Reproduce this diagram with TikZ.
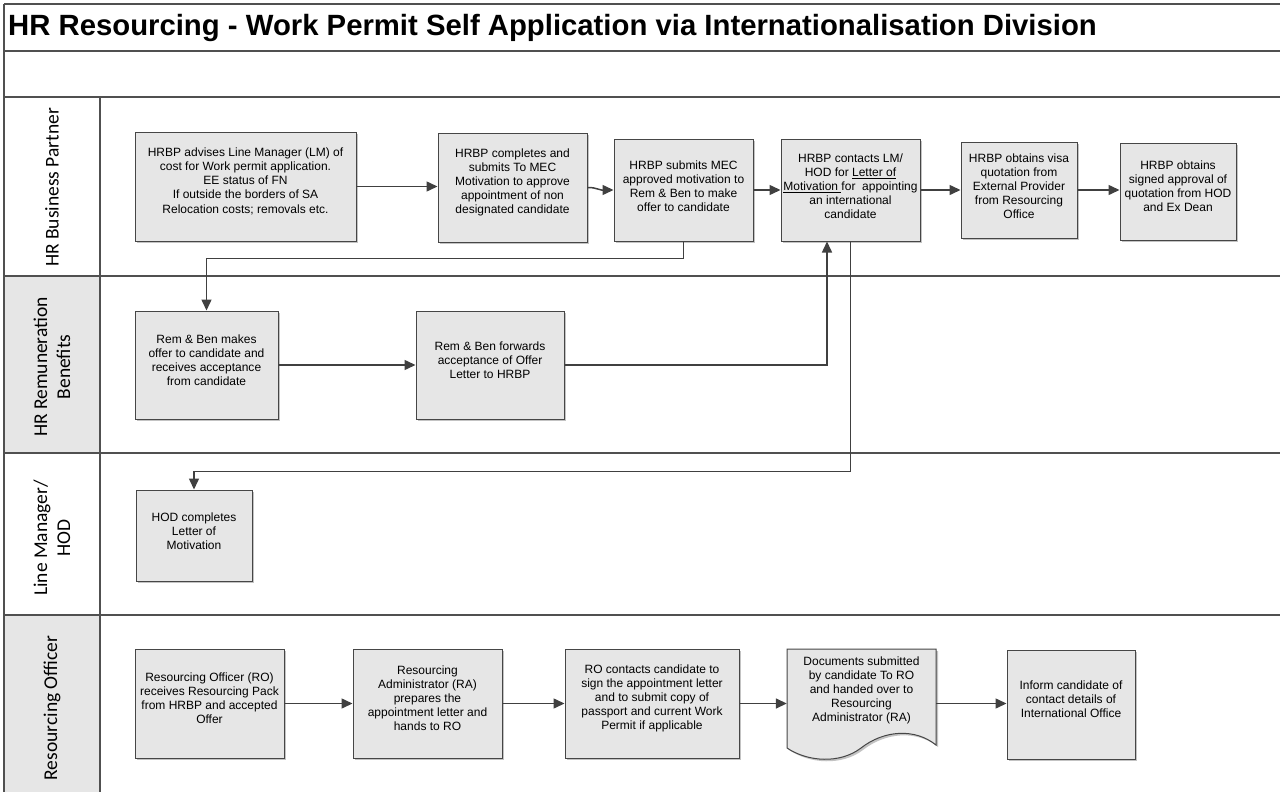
\documentclass[tikz,border=0pt]{standalone}
\usepackage{fontspec}
\setmainfont{Liberation Sans}
\newfontfamily\lanefont{Carlito}
\usetikzlibrary{arrows.meta,shadows,calc}
\definecolor{lanecol}{RGB}{80,80,80}
\definecolor{boxline}{RGB}{70,70,70}
\definecolor{boxfill}{RGB}{230,230,230}
\definecolor{shadowcol}{RGB}{195,195,195}
\definecolor{conncol}{RGB}{64,64,64}
\begin{document}
\begin{tikzpicture}[x=1pt,y=-1pt,
  laneline/.style={draw=lanecol, line width=1.5pt},
  procbox/.style={draw=boxline, fill=boxfill, line width=1pt, inner sep=0pt,
    drop shadow={shadow xshift=2pt, shadow yshift=-2pt, fill=shadowcol, opacity=1}},
  boxtext/.style={align=center, font=\fontsize{12}{14}\selectfont, inner sep=0pt},
  lanelabel/.style={rotate=90, align=center, font=\lanefont\fontsize{19.5}{23}\selectfont, inner sep=0pt},
  conn/.style={draw=conncol, line width=1.5pt, -{Triangle[length=11pt,width=10pt]}},
  docshape/.style={draw=boxline, fill=boxfill, line width=1pt},
  docshadow/.style={fill=shadowcol, draw=none},
  lanefill/.style={fill=boxfill, draw=none}
]
\useasboundingbox (0,0) rectangle (1280,792);

% lane label fills
\fill[lanefill] (4,276) rectangle (100,453);
\fill[lanefill] (4,615) rectangle (100,792);

% grid lines
\draw[laneline] (4,4) -- (1280,4);
\draw[laneline] (4,51) -- (1280,51);
\draw[laneline] (4,97) -- (1280,97);
\draw[laneline] (4,276) -- (1280,276);
\draw[laneline] (4,453) -- (1280,453);
\draw[laneline] (4,615) -- (1280,615);
\draw[laneline] (4,4) -- (4,792);
\draw[laneline] (100,97) -- (100,792);

% title
\node[anchor=west, font=\bfseries\fontsize{29.3}{31}\selectfont, inner sep=0pt] (title) at (8,28)
  {HR Resourcing - Work Permit Self Application via Internationalisation Division};

% lane labels
\node[lanelabel] (lane1) at (52,187.5) {HR Business Partner};
\node[lanelabel] (lane2) at (52,367) {HR Remuneration\\Benefits};
\node[lanelabel] (lane3) at (52,538) {Line Manager/\\HOD};
\node[lanelabel] (lane4) at (52,708) {Resourcing Officer};

% HR Business Partner lane
\node[procbox, minimum width=221pt, minimum height=109pt] (b1) at (245.5,186.5) {};
\node[boxtext] (b1t) at ([yshift=5pt]b1.center) {HRBP advises Line Manager (LM) of\\cost for Work permit application.\\EE status of FN\\If outside the borders of SA\\[1pt]Relocation costs; removals etc.};

\node[procbox, minimum width=149pt, minimum height=109pt] (b2) at (512.5,187.5) {};
\node[boxtext] (b2t) at ([yshift=5pt]b2.center) {HRBP completes and\\submits To MEC\\Motivation to approve\\appointment of non\\designated candidate};

\node[procbox, minimum width=139pt, minimum height=102pt] (b3) at (683.5,190) {};
\node[boxtext] (b3t) at ([yshift=4pt]b3.center) {HRBP submits MEC\\approved motivation to\\Rem \& Ben to make\\offer to candidate};

\node[procbox, minimum width=139pt, minimum height=102pt] (b4) at (850.5,190) {};
\node[boxtext] (b4t) at ([yshift=4pt]b4.center) {HRBP contacts LM/\\HOD for \underline{Letter of}\\\underline{Motivation\ }for\ \ appointing\\an international\\candidate};

\node[procbox, minimum width=116pt, minimum height=96pt] (b5) at (1019,190) {};
\node[boxtext] (b5t) at ([yshift=4pt]b5.center) {HRBP obtains visa\\quotation from\\External Provider\\from Resourcing\\Office};

\node[procbox, minimum width=116pt, minimum height=97pt] (b6) at (1178,191.5) {};
\node[boxtext] (b6t) at ([yshift=5pt]b6.center) {HRBP obtains\\signed approval of\\quotation from HOD\\and Ex Dean};

% HR Remuneration lane
\node[procbox, minimum width=143pt, minimum height=108pt] (r1) at (206.5,365) {};
\node[boxtext] (r1t) at ([yshift=5pt]r1.center) {Rem \& Ben makes\\offer to candidate and\\receives acceptance\\from candidate};

\node[procbox, minimum width=148pt, minimum height=108pt] (r2) at (490,365) {};
\node[boxtext] (r2t) at ([yshift=5pt]r2.center) {Rem \& Ben forwards\\acceptance of Offer\\Letter to HRBP};

% Line manager lane
\node[procbox, minimum width=116pt, minimum height=91pt] (l1) at (194,535.5) {};
\node[boxtext] (l1t) at ([yshift=4pt]l1.center) {HOD completes\\Letter of\\Motivation};

% Resourcing Officer lane
\node[procbox, minimum width=149pt, minimum height=109pt] (o1) at (209.5,703.5) {};
\node[boxtext] (o1t) at ([yshift=5pt]o1.center) {Resourcing Officer (RO)\\receives Resourcing Pack\\from HRBP and accepted\\Offer};

\node[procbox, minimum width=149pt, minimum height=109pt] (o2) at (427.5,703.5) {};
\node[boxtext] (o2t) at ([yshift=5pt]o2.center) {Resourcing\\Administrator (RA)\\prepares the\\appointment letter and\\hands to RO};

\node[procbox, minimum width=174pt, minimum height=109pt] (o3) at (652,703.5) {};
\node[boxtext] (o3t) at ([yshift=5pt]o3.center) {RO contacts candidate to\\sign the appointment letter\\and to submit copy of\\passport and current Work\\Permit if applicable};

% document shape
\fill[docshadow] (789,651) -- (938,651) -- (938,747) .. controls (917,730) and (886,732) .. (863,750) .. controls (842,766) and (810,764) .. (789,750) -- cycle;
\draw[docshape] (787,649) -- (936,649) -- (936,745) .. controls (915,728) and (884,730) .. (861,748) .. controls (840,764) and (808,762) .. (787,748) -- cycle;
\node[boxtext, minimum width=149pt] (o4) at (861.5,690) {Documents submitted\\by candidate To RO\\and handed over to\\Resourcing\\Administrator (RA)};

\node[procbox, minimum width=128pt, minimum height=109pt] (o5) at (1071,704.5) {};
\node[boxtext] (o5t) at ([yshift=5pt]o5.center) {Inform candidate of\\contact details of\\International Office};

% connectors
\draw[conn] (b1.east) -- (b1.east -| b2.west);
\draw[conn] (b2.east) .. controls +(10,0) and +(-4,0) .. ([xshift=-12pt]b3.west) -- (b3.west);
\draw[conn] (b3.east) -- (b3.east -| b4.west);
\draw[conn] (b4.east) -- (b4.east -| b5.west);
\draw[conn] (b5.east) -- (b5.east -| b6.west);
\draw[conn] (b3.south) -- ++(0,17) -| (r1.north);
\draw[conn] (r1.east) -- (r2.west);
\draw[conn] (r2.east) -| ([xshift=-23.5pt]b4.south);
\draw[conn] (b4.south) -- ++(0,230) -| (l1.north);
\draw[conn] (o1.east) -- (o2.west);
\draw[conn] (o2.east) -- (o3.west);
\draw[conn] (o3.east) -- (o3.east -| o4.west);
\draw[conn] (o4.east |- o3.east) -- (o3.east -| o5.west);
\end{tikzpicture}
\end{document}
